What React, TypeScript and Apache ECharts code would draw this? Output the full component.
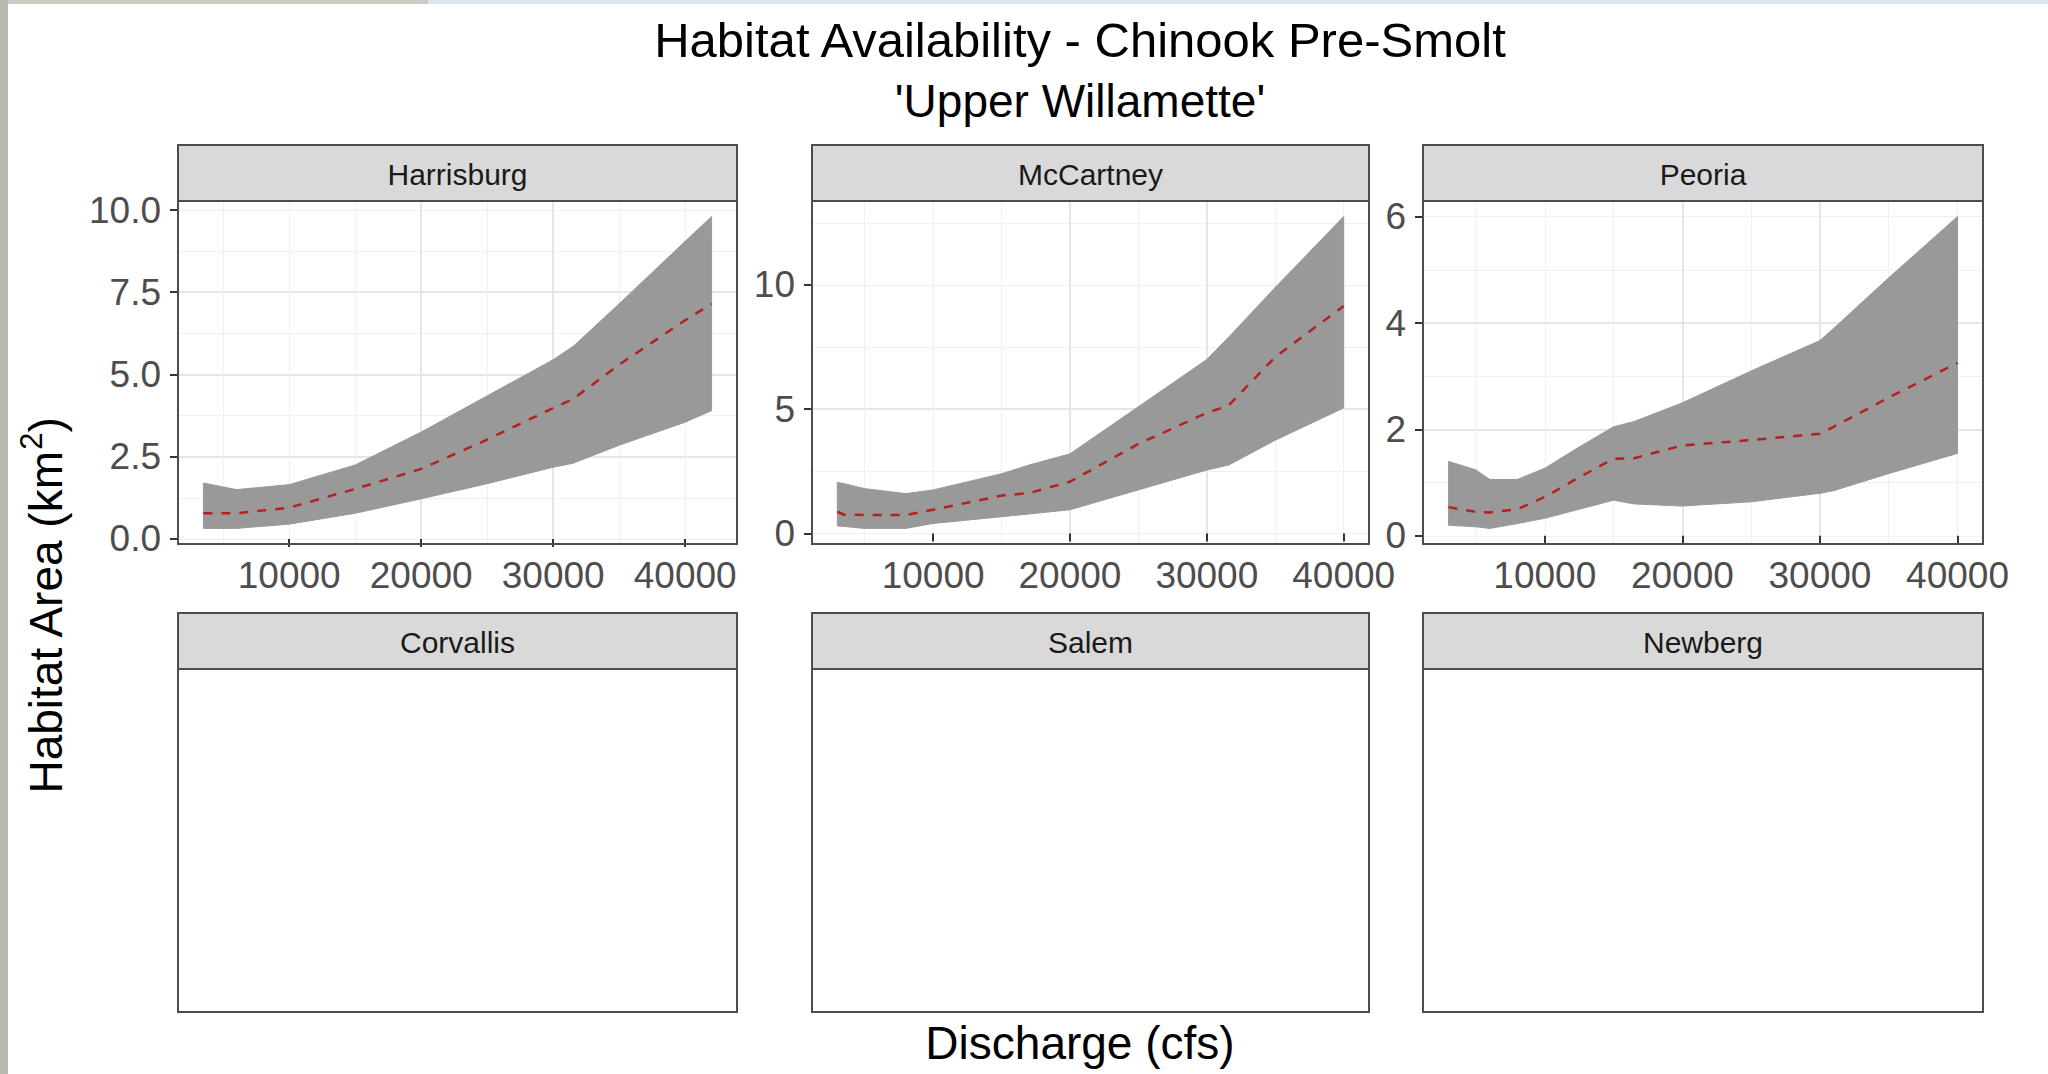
import React, { useEffect, useRef } from "react";
import * as echarts from "echarts";

const FONT = "'Liberation Sans', Arial, Helvetica, sans-serif";

// Texts
const chartTitle = "Habitat Availability - Chinook Pre-Smolt";
const chartSubtitle = "'Upper Willamette'";
const xAxisTitle = "Discharge (cfs)";
const siteNames = ["Harrisburg", "McCartney", "Peoria", "Corvallis", "Salem", "Newberg"];

// Harrisburg: discharge (cfs), ribbon bounds and mean habitat area (km²)
const harrisburgQ = [3500, 6000, 10000, 15000, 20000, 25000, 30000, 31500, 35000, 40000, 42000];
const harrisburgUpper = [1.7, 1.5, 1.65, 2.25, 3.25, 4.35, 5.45, 5.85, 7.15, 9.05, 9.8];
const harrisburgLower = [0.32, 0.32, 0.45, 0.78, 1.22, 1.68, 2.18, 2.3, 2.85, 3.55, 3.9];
const harrisburgMean = [0.78, 0.78, 0.95, 1.52, 2.13, 3.02, 3.98, 4.25, 5.3, 6.65, 7.15];

// McCartney
const mccartneyQ = [3000, 3500, 5000, 8000, 10000, 15000, 17000, 20000, 25000, 30000, 31600, 35000, 40000];
const mccartneyUpper = [2.05, 2.0, 1.8, 1.6, 1.75, 2.4, 2.75, 3.2, 5.1, 7.0, 7.9, 9.9, 12.75];
const mccartneyLower = [0.3, 0.28, 0.2, 0.2, 0.4, 0.67, 0.78, 0.95, 1.75, 2.55, 2.75, 3.75, 5.05];
const mccartneyMean = [0.87, 0.75, 0.74, 0.74, 0.95, 1.52, 1.62, 2.08, 3.6, 4.85, 5.15, 7.1, 9.15];

// Peoria
const peoriaQ = [3000, 5000, 6000, 8000, 10000, 12500, 15000, 16500, 20000, 25000, 30000, 31000, 35000, 40000];
const peoriaUpper = [1.4, 1.24, 1.06, 1.06, 1.27, 1.67, 2.05, 2.15, 2.5, 3.1, 3.67, 3.9, 4.85, 6.0];
const peoriaLower = [0.2, 0.17, 0.14, 0.23, 0.33, 0.5, 0.67, 0.6, 0.56, 0.64, 0.8, 0.85, 1.17, 1.55];
const peoriaMean = [0.54, 0.45, 0.44, 0.5, 0.73, 1.1, 1.45, 1.46, 1.7, 1.8, 1.92, 2.05, 2.6, 3.25];

// Axis breaks
const xBreaks = [10000, 20000, 30000, 40000];
const harrisburgYBreaks = [0, 2.5, 5, 7.5, 10];
const mccartneyYBreaks = [0, 5, 10];
const peoriaYBreaks = [0, 2, 4, 6];

type Panel = {
  q: number[];
  upper: number[];
  lower: number[];
  mean: number[];
  yBreaks: number[];
  yStep: number;
  decimals: number;
};

const panels: Panel[] = [
  { q: harrisburgQ, upper: harrisburgUpper, lower: harrisburgLower, mean: harrisburgMean, yBreaks: harrisburgYBreaks, yStep: 2.5, decimals: 1 },
  { q: mccartneyQ, upper: mccartneyUpper, lower: mccartneyLower, mean: mccartneyMean, yBreaks: mccartneyYBreaks, yStep: 5, decimals: 0 },
  { q: peoriaQ, upper: peoriaUpper, lower: peoriaLower, mean: peoriaMean, yBreaks: peoriaYBreaks, yStep: 2, decimals: 0 },
];

// Layout (px)
const colLeft = [178, 812, 1423];
const colWidth = [559, 557, 560];
const stripTop = [145, 613];
const stripH = 56;
const panelBottom = [544, 1012];

const BORDER = "#4d4d4d";
const GRID_MAJOR = "#e6e6e6";
const GRID_MINOR = "#f0f0f0";
const RIBBON = "#999999";

function expand(lo: number, hi: number): [number, number] {
  const d = (hi - lo) * 0.05;
  return [lo - d, hi + d];
}

function buildOption() {
  const grids: any[] = [];
  const xMinor: any[] = [];
  const yMinor: any[] = [];
  const xMajor: any[] = [];
  const yMajor: any[] = [];
  const series: any[] = [];

  panels.forEach((p, i) => {
    const top = stripTop[0] + stripH;
    grids.push({
      left: colLeft[i],
      top,
      width: colWidth[i],
      height: panelBottom[0] - top,
      show: false,
      containLabel: false,
    });
    const [xMin, xMax] = expand(Math.min(...p.q), Math.max(...p.q));
    const [yMin, yMax] = expand(Math.min(...p.lower), Math.max(...p.upper));

    xMinor.push({
      type: "value", gridIndex: i, position: "top", min: xMin, max: xMax,
      minInterval: 5000, maxInterval: 5000,
      axisLine: { show: false }, axisTick: { show: false }, axisLabel: { show: false },
      splitLine: { show: true, showMinLine: false, showMaxLine: false, lineStyle: { color: GRID_MINOR, width: 1 } },
    });
    yMinor.push({
      type: "value", gridIndex: i, position: "right", min: yMin, max: yMax,
      minInterval: p.yStep / 2, maxInterval: p.yStep / 2,
      axisLine: { show: false }, axisTick: { show: false }, axisLabel: { show: false },
      splitLine: { show: true, showMinLine: false, showMaxLine: false, lineStyle: { color: GRID_MINOR, width: 1 } },
    });
    xMajor.push({
      type: "value", gridIndex: i, position: "bottom", min: xMin, max: xMax,
      minInterval: 10000, maxInterval: 10000,
      axisLine: { show: false },
      axisTick: { show: true, length: 8, customValues: xBreaks, lineStyle: { color: "#333333", width: 2 } },
      axisLabel: {
        show: true, customValues: xBreaks, margin: 13, fontSize: 37, fontFamily: FONT, color: "#4d4d4d",
        formatter: (v: number) => String(v),
      },
      splitLine: { show: true, showMinLine: false, showMaxLine: false, lineStyle: { color: GRID_MAJOR, width: 2 } },
    });
    yMajor.push({
      type: "value", gridIndex: i, position: "left", min: yMin, max: yMax,
      minInterval: p.yStep, maxInterval: p.yStep,
      axisLine: { show: false },
      axisTick: { show: true, length: 8, customValues: p.yBreaks, lineStyle: { color: "#333333", width: 2 } },
      axisLabel: {
        show: true, customValues: p.yBreaks, margin: 17, fontSize: 37, fontFamily: FONT, color: "#4d4d4d",
        formatter: (v: number) => v.toFixed(p.decimals),
      },
      splitLine: { show: true, showMinLine: false, showMaxLine: false, lineStyle: { color: GRID_MAJOR, width: 2 } },
    });

    const axisIdx = { xAxisIndex: 3 + i, yAxisIndex: 3 + i };
    // ribbon between lower and upper bounds, one quad per interval
    series.push({
      type: "custom", ...axisIdx, silent: true, z: 2,
      data: p.q.map((q, k) => [q, p.lower[k], p.upper[k]]),
      encode: { x: 0, y: [1, 2] },
      renderItem: (params: any, api: any) => {
        const k = params.dataIndex;
        if (k >= p.q.length - 1) return null;
        const pts = [
          api.coord([p.q[k], p.upper[k]]),
          api.coord([p.q[k + 1], p.upper[k + 1]]),
          api.coord([p.q[k + 1], p.lower[k + 1]]),
          api.coord([p.q[k], p.lower[k]]),
        ];
        return {
          type: "polygon",
          shape: { points: pts },
          style: { fill: RIBBON, stroke: RIBBON, lineWidth: 1 },
        };
      },
    });
    series.push({
      type: "line", ...axisIdx, symbol: "none", silent: true, z: 5,
      data: p.q.map((q, k) => [q, p.mean[k]]),
      lineStyle: { color: "#b22222", width: 2.5, type: [9, 9] },
    });
  });

  const graphics: any[] = [];
  // window edges around the plot
  graphics.push({ type: "rect", shape: { x: 0, y: 0, width: 8, height: 1074 }, style: { fill: "#b8bab2" }, silent: true });
  graphics.push({ type: "rect", shape: { x: 8, y: 0, width: 420, height: 4 }, style: { fill: "#c9ccc4" }, silent: true });
  graphics.push({ type: "rect", shape: { x: 428, y: 0, width: 1620, height: 4 }, style: { fill: "#dee6f0" }, silent: true });

  siteNames.forEach((name, idx) => {
    const row = idx < 3 ? 0 : 1;
    const col = idx % 3;
    const x = colLeft[col];
    const w = colWidth[col];
    const sTop = stripTop[row];
    // panel frame
    graphics.push({
      type: "rect", z: 50, silent: true,
      shape: { x, y: sTop + stripH, width: w, height: panelBottom[row] - sTop - stripH },
      style: { fill: row === 0 ? "transparent" : "#ffffff", stroke: BORDER, lineWidth: 2 },
    });
    // facet strip
    graphics.push({
      type: "rect", z: 50, silent: true,
      shape: { x, y: sTop, width: w, height: stripH },
      style: { fill: "#d9d9d9", stroke: BORDER, lineWidth: 2 },
    });
    graphics.push({
      type: "text", z: 51, silent: true,
      x: x + w / 2, y: sTop + stripH / 2 + 1,
      style: {
        text: name, fill: "#1a1a1a", fontSize: 30, fontFamily: FONT,
        align: "center", verticalAlign: "middle", textAlign: "center", textVerticalAlign: "middle",
      },
    });
  });

  const centerX = 1080;
  graphics.push({
    type: "text", silent: true, x: centerX, y: 40,
    style: { text: chartTitle, fill: "#000", fontSize: 49, fontFamily: FONT, align: "center", verticalAlign: "middle", textAlign: "center", textVerticalAlign: "middle" },
  });
  graphics.push({
    type: "text", silent: true, x: centerX, y: 101,
    style: { text: chartSubtitle, fill: "#000", fontSize: 46, fontFamily: FONT, align: "center", verticalAlign: "middle", textAlign: "center", textVerticalAlign: "middle" },
  });
  graphics.push({
    type: "text", silent: true, x: centerX, y: 1043,
    style: { text: xAxisTitle, fill: "#000", fontSize: 46, fontFamily: FONT, align: "center", verticalAlign: "middle", textAlign: "center", textVerticalAlign: "middle" },
  });
  graphics.push({
    type: "text", silent: true, x: 46, y: 606, rotation: Math.PI / 2,
    style: {
      text: "{a|Habitat Area (km}{s|2}{a|)}",
      fill: "#000", fontSize: 46, fontFamily: FONT,
      align: "center", verticalAlign: "middle", textAlign: "center", textVerticalAlign: "middle",
      rich: {
        a: { fontSize: 46, fontFamily: FONT, fill: "#000", lineHeight: 60 },
        s: { fontSize: 31, fontFamily: FONT, fill: "#000", verticalAlign: "top", lineHeight: 34 },
      },
    },
  });

  return {
    animation: false,
    backgroundColor: "#ffffff",
    grid: grids,
    xAxis: [...xMinor, ...xMajor],
    yAxis: [...yMinor, ...yMajor],
    series,
    graphic: { elements: graphics },
  };
}

export default function App() {
  const ref = useRef<HTMLDivElement>(null);
  useEffect(() => {
    if (!ref.current) return;
    const chart = echarts.init(ref.current, undefined, { renderer: "svg" });
    chart.setOption(buildOption() as any);
    return () => chart.dispose();
  }, []);
  return (
    <div
      ref={ref}
      style={{ position: "fixed", left: 0, top: 0, width: 2048, height: 1074, background: "#fff" }}
    />
  );
}
